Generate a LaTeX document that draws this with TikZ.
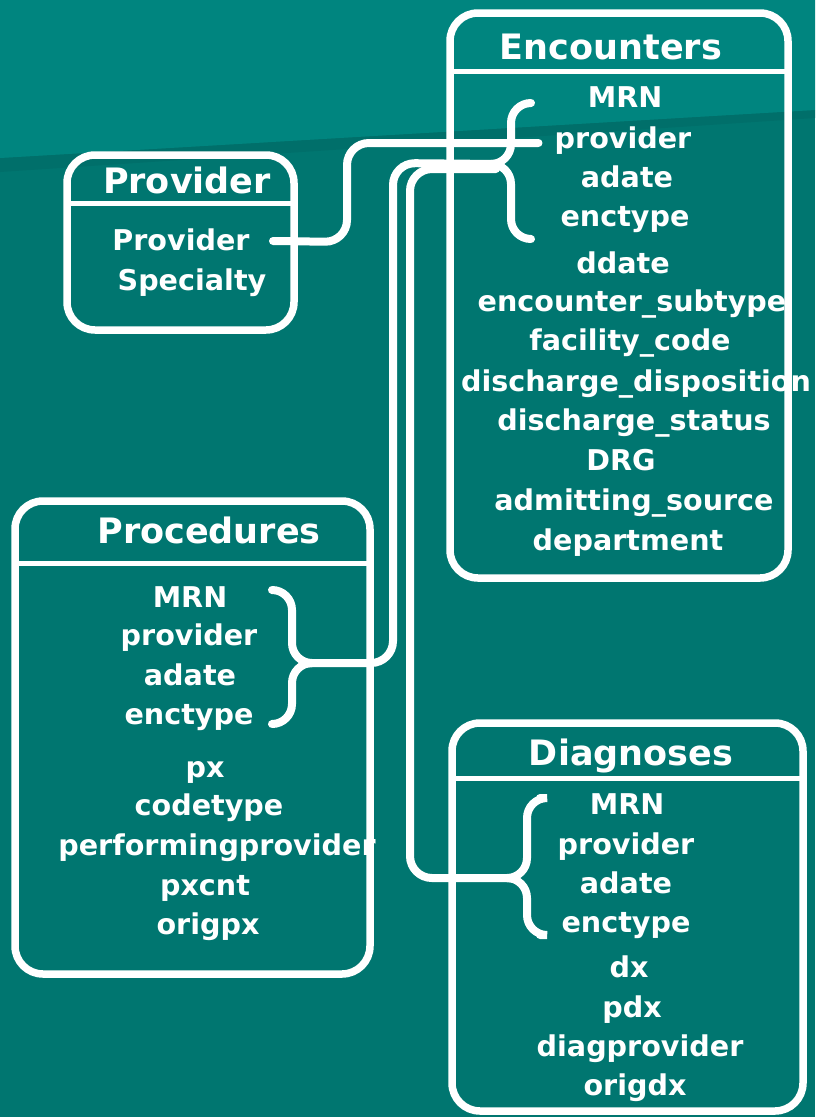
\documentclass[tikz,border=0pt]{standalone}
\usepackage{fontspec}
\setmainfont{DejaVu Sans}
\usetikzlibrary{positioning}
\definecolor{tealtop}{HTML}{00857F}
\definecolor{tealbot}{HTML}{007670}
\definecolor{tealshade}{HTML}{006F6A}

\begin{document}
\begin{tikzpicture}[x=1pt,y=-1pt,line cap=round]
    \tikzstyle{table}=[draw=white,line width=7.5pt,rounded corners=28pt]
    \tikzstyle{sep}=[draw=white,line width=5pt,line cap=butt]
    \tikzstyle{title}=[text=white,inner sep=0pt,text height=24pt,text depth=0pt,font=\bfseries\fontsize{35}{36}\selectfont]
    \tikzstyle{field}=[text=white,inner sep=0pt,text height=18pt,text depth=0pt,font=\bfseries\fontsize{28.6}{30}\selectfont]
    \tikzstyle{link}=[draw=white,line width=8pt,rounded corners=22pt]
    \tikzstyle{brace}=[draw=white,line width=8pt,rounded corners=20pt]

    % background
    \useasboundingbox (0,0) rectangle (815,1117);
    \fill[tealbot] (0,0) rectangle (815,1117);
    \fill[tealshade] (0,158) -- (815,110) -- (815,118) -- (0,172) -- cycle;
    \fill[tealtop] (0,0) -- (815,0) -- (815,110) -- (0,158) -- cycle;

    % Encounters
    \node[title] (enc) at (611,47) {Encounters};
    \node[field] (en-mrn) at (625,98) {MRN};
    \node[field] (en-prov) at (623,139) {provider};
    \node[field] (en-adate) at (627,178) {adate};
    \node[field] (en-enctype) at (625,217) {enctype};
    \node[field] (en-ddate) at (623,264) {ddate};
    \node[field] (en-subtype) at (632,302) {encounter\_subtype};
    \node[field] (en-facility) at (630,341) {facility\_code};
    \node[field] (en-dispo) at (636,382) {discharge\_disposition};
    \node[field] (en-status) at (634,421) {discharge\_status};
    \node[field] (en-drg) at (621,461) {DRG};
    \node[field] (en-source) at (634,501) {admitting\_source};
    \node[field] (en-dept) at (628,541) {department};
    \draw[table] (450,13) rectangle (788,578);
    \draw[sep] (450,71) -- (788,71);

    % Provider
    \node[title] (pv) at (187,181) {Provider};
    \node[field] (pv-prov) at (181,241) {Provider};
    \node[field] (pv-spec) at (192,281) {Specialty};
    \draw[table] (67,155) rectangle (294,330);
    \draw[sep] (67,203) -- (294,203);

    % Procedures
    \node[title] (proc) at (209,531) {Procedures};
    \node[field] (pr-mrn) at (190,598) {MRN};
    \node[field] (pr-prov) at (189,636) {provider};
    \node[field] (pr-adate) at (190,676) {adate};
    \node[field] (pr-enctype) at (189,715) {enctype};
    \node[field] (pr-px) at (205,768) {px};
    \node[field] (pr-codetype) at (209,806) {codetype};
    \node[field] (pr-perf) at (217,846) {performingprovider};
    \node[field] (pr-pxcnt) at (205,886) {pxcnt};
    \node[field] (pr-origpx) at (208,925) {origpx};
    \draw[table] (15,501) rectangle (370,974);
    \draw[sep] (15,563) -- (370,563);

    % Diagnoses
    \node[title] (diag) at (631,753) {Diagnoses};
    \node[field] (dg-mrn) at (627,805) {MRN};
    \node[field] (dg-prov) at (626,845) {provider};
    \node[field] (dg-adate) at (626,884) {adate};
    \node[field] (dg-enctype) at (626,923) {enctype};
    \node[field] (dg-dx) at (629,968) {dx};
    \node[field] (dg-pdx) at (632,1008) {pdx};
    \node[field] (dg-diagprov) at (640,1047) {diagprovider};
    \node[field] (dg-origdx) at (635,1086) {origdx};
    \draw[table] (452,723) rectangle (803,1111);
    \draw[sep] (452,778) -- (803,778);

    % braces round the shared keys
    \coordinate (enctip) at (496,164);
    \coordinate (proctip) at (305,663);
    \coordinate (diagtip) at (512,878);
    \draw[brace] (531,103) -- (511,103) -- (511,164) -- (enctip);
    \draw[brace] (531,239) -- (511,239) -- (511,164) -- (enctip);
    \draw[brace] (272,590) -- (292,590) -- (292,663) -- (proctip);
    \draw[brace] (272,724) -- (292,724) -- (292,663) -- (proctip);
    \draw[brace] (540,798) -- (527,798) -- (527,878) -- (diagtip);
    \draw[brace] (540,935) -- (527,935) -- (527,878) -- (diagtip);

    % links
    \draw[link] ([xshift=-2pt]pv-prov.east -| 275,0) -- (347,242) -- (347,143) -- ([xshift=-16pt]en-prov.west |- 0,143);
    \draw[link] (proctip) -- (393,663) -- (393,163) -- (enctip);
    \draw[link] (diagtip) -- (410,878) -- (410,169) -- (enctip |- 0,169);

\end{tikzpicture}
\end{document}
